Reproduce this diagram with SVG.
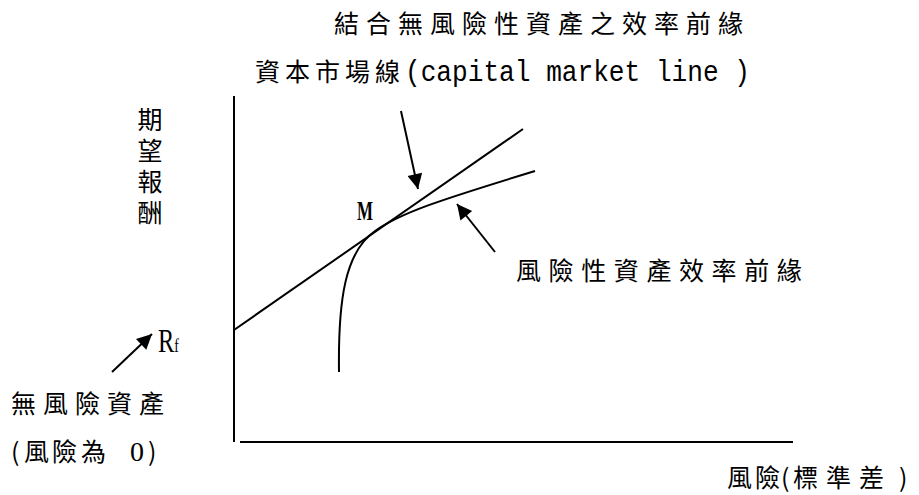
<svg xmlns="http://www.w3.org/2000/svg" width="919" height="495" viewBox="0 0 919 495">
<style>
.cjk{font-family:"Noto Sans CJK TC","Noto Sans CJK SC",sans-serif;font-size:25px;fill:#000}
.ln{stroke:#000;stroke-width:2;fill:none}
.mono{font-family:"Liberation Mono",monospace;font-size:30px;fill:#000}
.ser{font-family:"Liberation Serif",serif;fill:#000}
</style>
<defs>
<marker id="ahb" viewBox="0 0 10 10" refX="10" refY="5" markerWidth="18" markerHeight="15" markerUnits="userSpaceOnUse" orient="auto"><path d="M0,0 L10,5 L0,10 z" fill="#000"/></marker>
</defs>
<rect width="919" height="495" fill="#fff"/>
<g id="axes">
<line class="ln" x1="234" y1="96" x2="234" y2="442"/>
<line class="ln" x1="240" y1="442" x2="793" y2="442"/>
</g>
<g id="curves">
<line id="cml" class="ln" x1="234" y1="330" x2="523" y2="129"/>
<path id="frontier" class="ln" d="M339,372 C338,300 345,252 375,231 C400,213 440,200 535,171"/>
</g>
<g id="connectors">
<line class="ln" x1="401" y1="111" x2="418" y2="189" marker-end="url(#ahb)"/>
<line class="ln" x1="495" y1="252" x2="457" y2="204" marker-end="url(#ahb)"/>
<line class="ln" x1="112" y1="372" x2="152" y2="334" marker-end="url(#ahb)"/>
</g>
<g id="title">
<text class="cjk" x="334" y="33" letter-spacing="7">結合無風險性資產之效率前緣</text>
<text class="cjk" x="255" y="81" letter-spacing="5">資本市場線</text>
<text class="mono" x="405" y="81" textLength="345" lengthAdjust="spacingAndGlyphs" xml:space="preserve">(capital market line )</text>
</g>
<g id="ylabel">
<text class="cjk" x="150" y="107" writing-mode="vertical-rl" letter-spacing="6">期望報酬</text>
</g>
<g id="M">
<text class="ser" x="357" y="220" font-size="27" font-weight="bold" textLength="16" lengthAdjust="spacingAndGlyphs">M</text>
</g>
<g id="Rf">
<text class="ser" transform="translate(158,352) scale(0.72,1)" font-size="34">R<tspan font-size="19">f</tspan></text>
</g>
<g id="riskfree">
<text class="cjk" x="11" y="413" letter-spacing="7">無風險資產</text>
<text class="cjk" y="461"><tspan x="11">(</tspan><tspan x="24">風</tspan><tspan x="52">險</tspan><tspan x="81">為</tspan><tspan class="ser" x="130" font-size="28">0</tspan><tspan x="148">)</tspan></text>
</g>
<g id="frontierlabel">
<text class="cjk" x="516" y="280" letter-spacing="7.6">風險性資產效率前緣</text>
</g>
<g id="xlabel">
<text class="cjk" y="487"><tspan x="727">風</tspan><tspan x="755">險</tspan><tspan x="781">(</tspan><tspan x="793">標</tspan><tspan x="826">準</tspan><tspan x="859">差</tspan><tspan x="899">)</tspan></text>
</g>
</svg>
